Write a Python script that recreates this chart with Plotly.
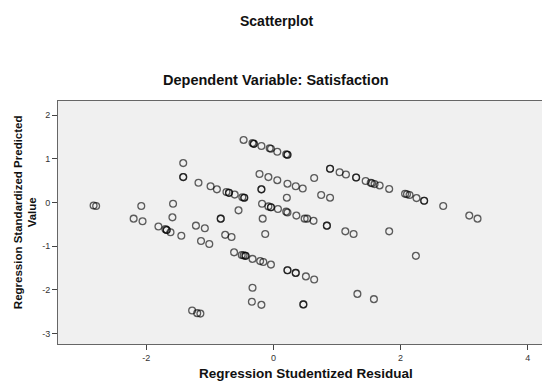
import plotly.graph_objects as go

# Regression Studentized Residual (x) and Regression Standardized Predicted Value (y)
residual = [
    -2.83, -2.79, -2.08, -1.58, -1.42, -1.42, -1.42, -1.18, -0.99, -0.89, -0.74, -0.70, -0.70,
    -0.61, -0.49, -0.46, -0.46,
    -2.20, -2.06, -1.59, -1.81, -1.70, -1.68, -1.68, -1.62, -1.45, -1.22, -1.08, -1.14, -1.01,
    -0.83, -0.83, -0.55, -0.76, -0.66, -0.17, -0.13, -0.19, -0.19, -0.18,
    -0.47, -0.33, -0.31, -0.31, -0.19, -0.06, -0.04, 0.06, 0.20, 0.22, 0.22,
    -0.22, -0.08, 0.06, 0.22, 0.35, 0.46, 0.21, 0.64,
    0.89, 0.89, 1.04, 1.14, 1.30, 1.30, 1.45, 1.53, 1.55, 1.59, 1.67, 1.82, 0.75, 0.89,
    2.07, 2.10, 2.14, 2.25, 2.37, 2.37, 2.67, 3.08, 3.21,
    -0.08, -0.04, -0.04, 0.07, 0.20, 0.22, 0.36, 0.49, 0.53, 0.63, 0.84, 0.84,
    1.13, 1.26, 1.82, 2.24,
    -0.62, -0.50, -0.47, -0.44, -0.44, -0.33, -0.21, -0.16, -0.04, 0.22, 0.22, 0.35, 0.35,
    0.51, 0.64, -0.33, -0.34, -0.19, 0.47, 0.47, -1.28, -1.20, -1.15, 1.32, 1.58,
]
predicted = [
    -0.07, -0.08, -0.08, -0.03, 0.90, 0.58, 0.58, 0.45, 0.37, 0.30, 0.24, 0.22, 0.22,
    0.18, 0.12, 0.11, 0.11,
    -0.37, -0.43, -0.34, -0.55, -0.61, -0.63, -0.63, -0.68, -0.76, -0.53, -0.59, -0.88, -0.95,
    -0.37, -0.37, -0.18, -0.74, -0.79, -0.37, -0.72, 0.30, 0.30, -0.03,
    1.43, 1.36, 1.34, 1.34, 1.29, 1.24, 1.23, 1.16, 1.10, 1.09, 1.09,
    0.65, 0.58, 0.51, 0.43, 0.37, 0.32, 0.11, 0.56,
    0.77, 0.77, 0.69, 0.64, 0.57, 0.57, 0.49, 0.45, 0.44, 0.42, 0.39, 0.31, 0.17, 0.11,
    0.20, 0.19, 0.17, 0.10, 0.04, 0.04, -0.08, -0.30, -0.37,
    -0.09, -0.11, -0.11, -0.15, -0.21, -0.23, -0.30, -0.37, -0.37, -0.42, -0.53, -0.53,
    -0.66, -0.72, -0.66, -1.22,
    -1.14, -1.20, -1.21, -1.22, -1.22, -1.29, -1.34, -1.36, -1.42, -1.55, -1.55, -1.61, -1.61,
    -1.69, -1.76, -1.95, -2.27, -2.34, -2.33, -2.33, -2.47, -2.53, -2.54, -2.09, -2.21,
]

x_ticks = [-2, 0, 2, 4]
y_ticks = [-3, -2, -1, 0, 1, 2]

FONT = "Liberation Sans, Arial, sans-serif"

fig = go.Figure()
fig.add_trace(go.Scatter(
    x=residual, y=predicted, mode="markers",
    marker=dict(symbol="circle-open", size=6.8, color="rgba(0,0,0,0.62)",
                line=dict(width=1.3, color="rgba(0,0,0,0.62)")),
    hoverinfo="skip", showlegend=False,
))

fig.update_layout(
    width=542, height=373,
    margin=dict(l=50, r=0, t=93, b=37),
    paper_bgcolor="white", plot_bgcolor="#f0f0f0",
    font=dict(family=FONT, color="#222222"),
    xaxis=dict(range=[-3.39, 4.35], tickvals=x_ticks, ticktext=[str(v) for v in x_ticks],
               showgrid=False, zeroline=False, showline=True, linecolor="#666666", linewidth=1,
               mirror=True, ticks="outside", ticklen=5, tickcolor="#444444",
               tickfont=dict(size=9, color="#333333")),
    yaxis=dict(range=[-3.235, 2.32], tickvals=y_ticks, ticktext=[str(v) for v in y_ticks],
               showgrid=False, zeroline=False, showline=True, linecolor="#666666", linewidth=1,
               mirror=False, ticks="outside", ticklen=5, tickcolor="#444444",
               tickfont=dict(size=9, color="#333333")),
    annotations=[
        dict(text="<b>Scatterplot</b>", xref="paper", yref="paper", x=0.4434, y=1.329,
             showarrow=False, font=dict(size=14, color="#111111"), xanchor="center", yanchor="middle"),
        dict(text="<b>Dependent Variable: Satisfaction</b>", xref="paper", yref="paper",
             x=0.4434, y=1.086, showarrow=False, font=dict(size=14.5, color="#111111"),
             xanchor="center", yanchor="middle"),
        dict(text="<b>Regression Studentized Residual</b>", xref="paper", yref="paper",
             x=0.504, y=-0.122, showarrow=False, font=dict(size=13.5, color="#111111"),
             xanchor="center", yanchor="middle"),
        dict(text="<b>Regression Standardized Predicted<br>Value</b>", xref="paper", yref="paper",
             x=-0.0664, y=0.544, showarrow=False, textangle=-90,
             font=dict(size=11.5, color="#111111"), xanchor="center", yanchor="middle"),
    ],
)

fig.write_html("out.html")
